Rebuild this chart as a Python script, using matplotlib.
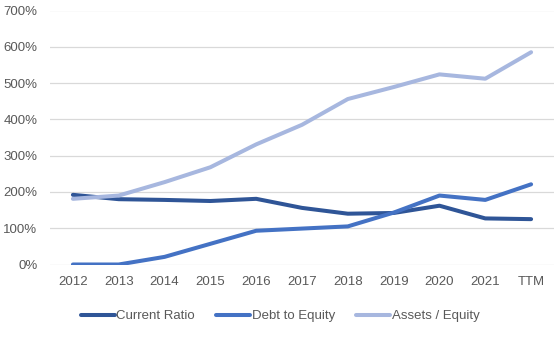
import matplotlib
matplotlib.use("Agg")
import matplotlib.pyplot as plt
from matplotlib.ticker import FuncFormatter

years = ["2012", "2013", "2014", "2015", "2016", "2017", "2018", "2019", "2020", "2021", "TTM"]
current_ratio = [192, 180, 178, 175, 181, 156, 140, 142, 162, 127, 125]
debt_to_equity = [0, 0, 21, 57, 93, 99, 105, 143, 190, 178, 221]
assets_equity = [181, 190, 227, 268, 331, 385, 456, 489, 524, 512, 585]

plt.rcParams['font.family'] = ['Liberation Sans', 'DejaVu Sans']

fig = plt.figure(figsize=(5.6, 3.39), dpi=100)
ax = fig.add_axes([50 / 560, 1 - 264.5 / 339, 504 / 560, 254 / 339])

x = range(len(years))
ax.plot(x, current_ratio, color="#2F5597", lw=2.9, label="Current Ratio", solid_capstyle="round")
ax.plot(x, debt_to_equity, color="#4472C4", lw=2.9, label="Debt to Equity", solid_capstyle="round")
ax.plot(x, assets_equity, color="#A7B7DF", lw=2.9, label="Assets / Equity", solid_capstyle="round")

ax.set_xlim(-0.5, len(years) - 0.5)
ax.set_ylim(0, 700)
ax.set_yticks(range(0, 701, 100))
ax.yaxis.set_major_formatter(FuncFormatter(lambda v, p: f"{int(v)}%"))
ax.set_xticks(list(x))
ax.set_xticklabels(years)
ax.grid(axis="y", color="#D9D9D9", lw=0.9)
ax.set_axisbelow(True)
for s in ax.spines.values():
    s.set_visible(False)
ax.tick_params(length=0, colors="#595959", labelsize=9.5)
ax.tick_params(axis="y", pad=9)
ax.tick_params(axis="x", pad=8)

fig.legend(loc="center", bbox_to_anchor=(0.5, 1 - 316 / 339), ncol=3, frameon=False,
           fontsize=9.5, handlelength=2.6, handletextpad=0.1, columnspacing=1.6,
           labelcolor="#595959")

fig.savefig("out.png", dpi=100)
